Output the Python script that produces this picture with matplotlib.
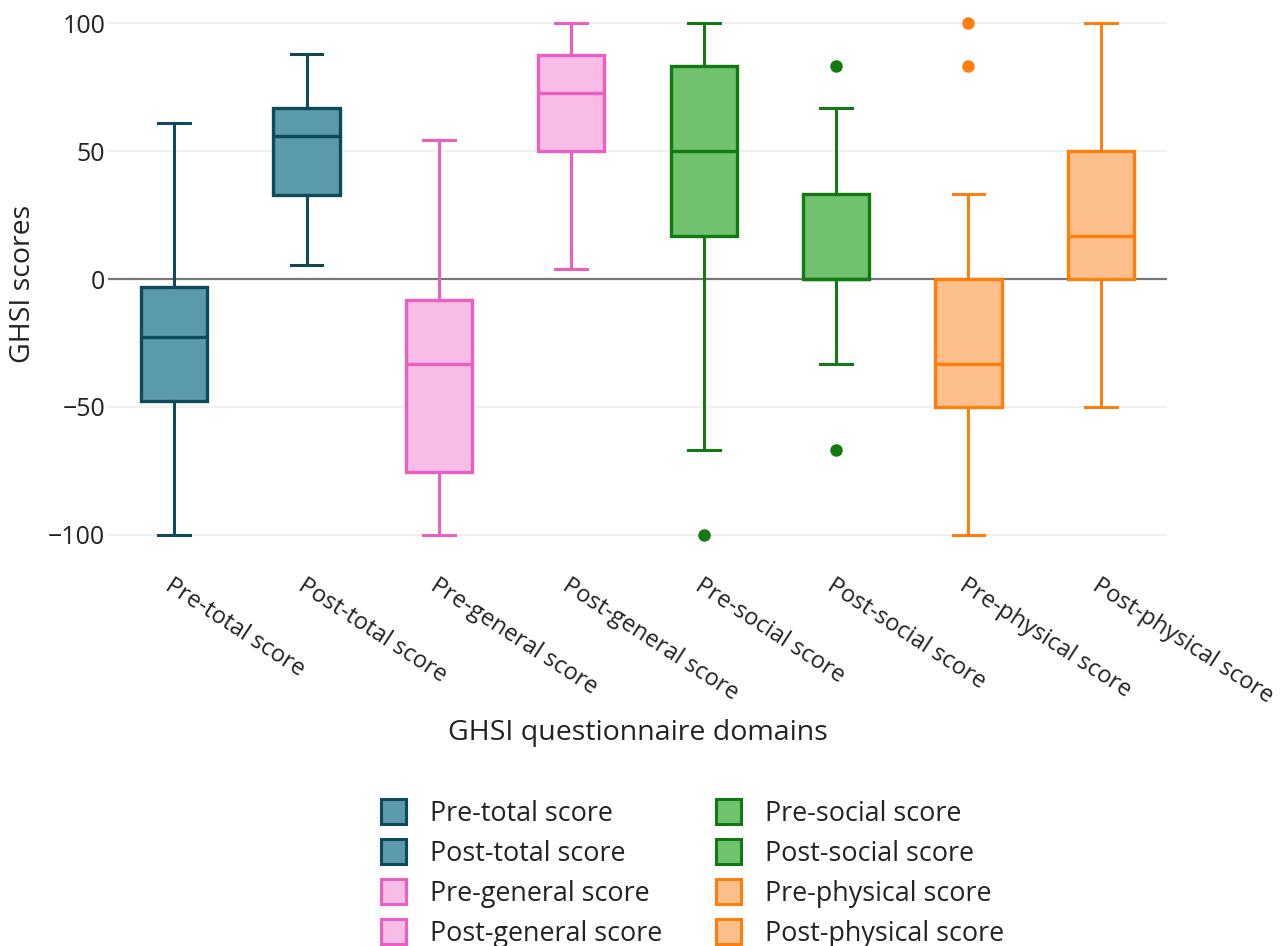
import matplotlib
matplotlib.use("Agg")
import matplotlib.pyplot as plt
from matplotlib.patches import Patch

plt.rcParams['font.family'] = ['Open Sans', 'DejaVu Sans']

categories = ["Pre-total score", "Post-total score", "Pre-general score", "Post-general score",
              "Pre-social score", "Post-social score", "Pre-physical score", "Post-physical score"]
whis_low = [-100, 5.5, -100, 4, -66.7, -33.3, -100, -50]
q1 = [-47.5, 33, -75.5, 50, 16.7, 0, -50, 0]
median = [-22.5, 56, -33.3, 72.7, 50, 0, -33.3, 16.7]
q3 = [-3, 67, -8.3, 87.7, 83.3, 33.3, 0, 50]
whis_high = [61, 88, 54.2, 100, 100, 66.7, 33.3, 100]
fliers = [[], [], [], [], [-100], [83.3, -66.7], [100, 83.3], []]

line_colors = ["#0f4a5b", "#0f4a5b", "#ea5fc0", "#ea5fc0", "#137a13", "#137a13", "#ff7f0e", "#ff7f0e"]
fill_colors = ["#5a9aac", "#5a9aac", "#f8bde6", "#f8bde6", "#71c26f", "#71c26f", "#fdbf8b", "#fdbf8b"]

fig = plt.figure(figsize=(12.84, 9.46), dpi=100)
ax = fig.add_axes([108/1284, 1 - 554/946, (1167-108)/1284, (554-13)/946])

stats = []
for i, c in enumerate(categories):
    stats.append(dict(label=c, whislo=whis_low[i], q1=q1[i], med=median[i], q3=q3[i],
                      whishi=whis_high[i], fliers=fliers[i]))

for i, s in enumerate(stats):
    ax.bxp([s], positions=[i], widths=0.5, capwidths=0.24, patch_artist=True,
           boxprops=dict(facecolor=fill_colors[i], edgecolor=line_colors[i], linewidth=2.4),
           whiskerprops=dict(color=line_colors[i], linewidth=2.2),
           capprops=dict(color=line_colors[i], linewidth=2.2),
           medianprops=dict(color=line_colors[i], linewidth=2.4),
           flierprops=dict(marker='o', markerfacecolor=line_colors[i], markeredgecolor=line_colors[i],
                           markersize=8),
           zorder=3)

ax.set_xlim(-0.5, 7.5)
ax.set_ylim(-107.5, 104)
ax.set_yticks([-100, -50, 0, 50, 100])
ax.set_yticklabels(["\u2212100", "\u221250", "0", "50", "100"])
ax.grid(axis='y', color='#eeeeee', linewidth=1.2, zorder=0)
ax.axhline(0, color='#777777', linewidth=1.6, zorder=2)
for sp in ax.spines.values():
    sp.set_visible(False)
ax.tick_params(axis='both', length=0, labelsize=17, colors='#222222')
ax.tick_params(axis='y', labelsize=18, pad=2)
ax.set_xticks(range(len(categories)))
ax.set_xticklabels(categories, rotation=-33, ha='left', va='top', rotation_mode='anchor')
ax.tick_params(axis='x', pad=14)
ax.set_ylabel("GHSI scores", fontsize=20.5, color='#222222', labelpad=8)
ax.set_xlabel("GHSI questionnaire domains", fontsize=20.5, color='#222222', labelpad=8)

handles = [Patch(facecolor=fill_colors[i], edgecolor=line_colors[i], linewidth=2.2, label=categories[i])
           for i in range(len(categories))]
fig.legend(handles=handles, ncol=2, loc='upper left', bbox_to_anchor=(381/1284, 1 - 799/946),
           frameon=False, fontsize=19.4, handlelength=0.92, handleheight=1.05, handletextpad=0.9,
           columnspacing=2.0, labelspacing=0.42, borderpad=0, borderaxespad=0,
           labelcolor='#222222')

fig.savefig("out.png", dpi=100, facecolor='white')
